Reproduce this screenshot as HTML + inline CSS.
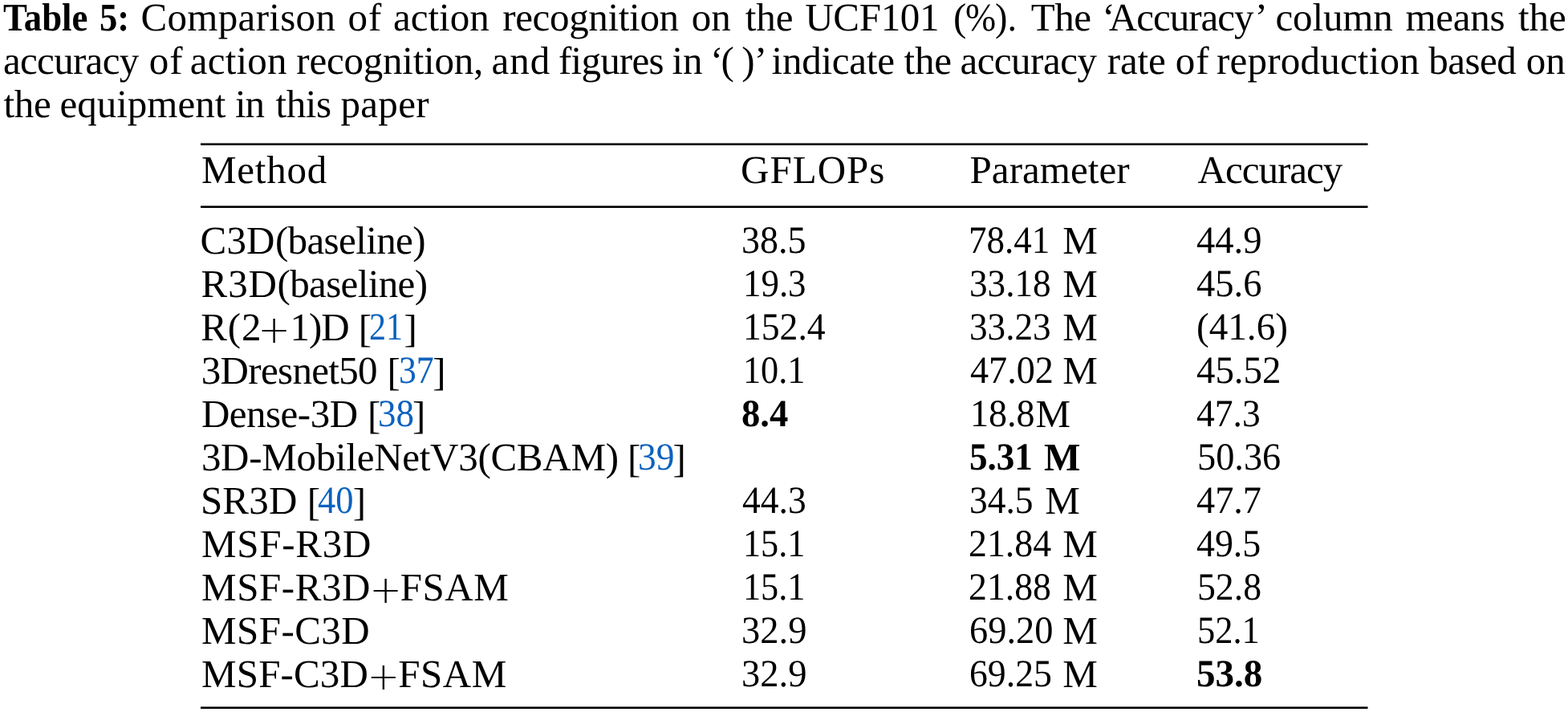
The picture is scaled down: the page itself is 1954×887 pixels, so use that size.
<!DOCTYPE html>
<html><head><meta charset="utf-8"><title>Table 5</title>
<style>
html,body{margin:0;padding:0;background:#fff;}
body{width:1954px;height:887px;position:relative;overflow:hidden;font-family:"Liberation Serif",serif;font-size:49px;color:#000;}
.t{text-rendering:geometricPrecision;position:absolute;white-space:nowrap;line-height:1;margin:0;padding:0;}
b{font-weight:bold;}
</style></head><body>

<span class="t" style="left:3.80px;top:-3.00px;transform:scaleX(0.9140);transform-origin:0 0;"><b>Table</b></span>
<span class="t" style="left:123.79px;top:-3.00px;transform:scaleX(0.9127);transform-origin:0 0;"><b>5:</b></span>
<span class="t" style="left:175.50px;top:-3.00px;letter-spacing:0.317px;">Comparison</span>
<span class="t" style="left:433.50px;top:-3.00px;letter-spacing:1.000px;">of</span>
<span class="t" style="left:489.90px;top:-3.00px;letter-spacing:0.035px;">action</span>
<span class="t" style="left:626.20px;top:-3.00px;letter-spacing:-0.326px;">recognition</span>
<span class="t" style="left:861.70px;top:-3.00px;">on</span>
<span class="t" style="left:928.80px;top:-3.00px;letter-spacing:-0.107px;">the</span>
<span class="t" style="left:1003.30px;top:-3.00px;letter-spacing:-0.324px;">UCF101</span>
<span class="t" style="left:1188.00px;top:-3.00px;">(</span><span class="t" style="left:1202.77px;top:-3.00px;transform:scaleX(0.9333);transform-origin:0 0;">%</span><span class="t" style="left:1240.26px;top:-3.00px;transform:scaleX(0.9440);transform-origin:0 0;">).</span>
<span class="t" style="left:1284.70px;top:-3.00px;letter-spacing:-0.416px;">The</span>
<span class="t" style="left:1373.20px;top:-3.00px;">‘</span><span class="t" style="left:1381.80px;top:-3.00px;letter-spacing:-1.000px;">Accuracy</span><span class="t" style="left:1563.50px;top:-3.00px;">’</span>
<span class="t" style="left:1589.50px;top:-3.00px;letter-spacing:-0.155px;">column</span>
<span class="t" style="left:1751.40px;top:-3.00px;letter-spacing:-0.278px;">means</span>
<span class="t" style="left:1892.10px;top:-3.00px;letter-spacing:-0.157px;">the</span>
<span class="t" style="left:3.90px;top:51.00px;letter-spacing:-0.666px;">accuracy</span>
<span class="t" style="left:185.70px;top:51.00px;letter-spacing:1.000px;">of</span>
<span class="t" style="left:236.80px;top:51.00px;letter-spacing:0.175px;">action</span>
<span class="t" style="left:369.30px;top:51.00px;letter-spacing:-0.223px;">recognition,</span>
<span class="t" style="left:612.40px;top:51.00px;letter-spacing:1.000px;">and</span>
<span class="t" style="left:696.00px;top:51.00px;letter-spacing:-0.766px;">figures</span>
<span class="t" style="left:837.60px;top:51.00px;letter-spacing:-0.314px;">in</span>
<span class="t" style="left:885.00px;top:51.00px;">‘</span><span class="t" style="left:898.60px;top:51.00px;">(</span>
<span class="t" style="left:924.20px;top:51.00px;">)</span><span class="t" style="left:939.80px;top:51.00px;">’</span>
<span class="t" style="left:961.60px;top:51.00px;letter-spacing:-0.248px;">indicate</span>
<span class="t" style="left:1126.60px;top:51.00px;letter-spacing:-0.207px;">the</span>
<span class="t" style="left:1196.40px;top:51.00px;letter-spacing:-0.509px;">accuracy</span>
<span class="t" style="left:1379.80px;top:51.00px;letter-spacing:-0.160px;">rate</span>
<span class="t" style="left:1464.80px;top:51.00px;letter-spacing:1.000px;">of</span>
<span class="t" style="left:1516.10px;top:51.00px;letter-spacing:0.204px;">reproduction</span>
<span class="t" style="left:1780.30px;top:51.00px;letter-spacing:-0.516px;">based</span>
<span class="t" style="left:1901.70px;top:51.00px;letter-spacing:0.100px;">on</span>
<span class="t" style="left:4.60px;top:105.00px;letter-spacing:-0.357px;">the</span>
<span class="t" style="left:74.50px;top:105.00px;">equipment</span>
<span class="t" style="left:292.90px;top:105.00px;letter-spacing:-1.000px;">in</span>
<span class="t" style="left:343.40px;top:105.00px;letter-spacing:-0.376px;">this</span>
<span class="t" style="left:424.50px;top:105.00px;letter-spacing:0.301px;">paper</span>
<span class="t" style="left:251.00px;top:187.00px;letter-spacing:0.774px;">Method</span>
<span class="t" style="left:923.10px;top:187.00px;letter-spacing:1.000px;">GFLOPs</span>
<span class="t" style="left:1208.50px;top:187.00px;letter-spacing:0.064px;">Parameter</span>
<span class="t" style="left:1492.50px;top:187.00px;letter-spacing:-1.000px;">Accuracy</span>
<span class="t" style="left:249.50px;top:275.00px;letter-spacing:0.209px;">C3D</span><span class="t" style="left:342.90px;top:275.00px;letter-spacing:-0.618px;">(baseline)</span>
<span class="t" style="left:924.49px;top:276.00px;font-size:48px;transform:scaleX(0.9568);transform-origin:0 0;">38.5</span>
<span class="t" style="left:1207.49px;top:276.00px;font-size:48px;transform:scaleX(0.9369);transform-origin:0 0;">78.41</span>
<span class="t" style="left:1324.20px;top:275.00px;">M</span>
<span class="t" style="left:1491.40px;top:276.00px;font-size:48px;transform:scaleX(0.9699);transform-origin:0 0;">44.9</span>
<span class="t" style="left:250.50px;top:329.00px;letter-spacing:0.959px;">R3D</span><span class="t" style="left:345.50px;top:329.00px;letter-spacing:-0.629px;">(baseline)</span>
<span class="t" style="left:925.66px;top:330.00px;font-size:48px;transform:scaleX(0.9354);transform-origin:0 0;">19.3</span>
<span class="t" style="left:1208.42px;top:330.00px;font-size:48px;transform:scaleX(0.9419);transform-origin:0 0;">33.18</span>
<span class="t" style="left:1324.20px;top:329.00px;">M</span>
<span class="t" style="left:1491.40px;top:330.00px;font-size:48px;transform:scaleX(0.9699);transform-origin:0 0;">45.6</span>
<span class="t" style="left:250.20px;top:383.00px;letter-spacing:0.950px;">R(2</span><span class="t" style="left:321.50px;top:387.00px;font-family:'DejaVu Sans Light','DejaVu Sans',sans-serif;font-weight:200;font-size:48px;">+</span><span class="t" style="left:361.40px;top:383.00px;letter-spacing:-1.000px;">1)D</span>
<span class="t" style="left:446.80px;top:385.00px;">[</span><span class="t" style="left:459.55px;top:384.00px;font-size:48px;transform:scaleX(0.8750);transform-origin:0 0;color:#0b62be;">21</span><span class="t" style="left:503.40px;top:385.00px;">]</span>
<span class="t" style="left:925.60px;top:384.00px;font-size:48px;transform:scaleX(0.9500);transform-origin:0 0;">152.4</span>
<span class="t" style="left:1208.42px;top:384.00px;font-size:48px;transform:scaleX(0.9419);transform-origin:0 0;">33.23</span>
<span class="t" style="left:1324.20px;top:383.00px;">M</span>
<span class="t" style="left:1490.64px;top:384.00px;font-size:48px;transform:scaleX(0.9823);transform-origin:0 0;">(41.6)</span>
<span class="t" style="left:250.80px;top:437.00px;letter-spacing:-0.687px;">3Dresnet50</span>
<span class="t" style="left:482.60px;top:439.00px;">[</span><span class="t" style="left:496.58px;top:438.00px;font-size:48px;transform:scaleX(0.9111);transform-origin:0 0;color:#0b62be;">37</span><span class="t" style="left:539.20px;top:439.00px;">]</span>
<span class="t" style="left:925.72px;top:438.00px;font-size:48px;transform:scaleX(0.9205);transform-origin:0 0;">10.1</span>
<span class="t" style="left:1208.50px;top:438.00px;font-size:48px;transform:scaleX(0.9613);transform-origin:0 0;">47.02</span>
<span class="t" style="left:1324.20px;top:437.00px;">M</span>
<span class="t" style="left:1491.40px;top:438.00px;font-size:48px;transform:scaleX(0.9755);transform-origin:0 0;">45.52</span>
<span class="t" style="left:250.90px;top:491.00px;letter-spacing:-0.496px;">Dense-3D</span>
<span class="t" style="left:457.90px;top:493.00px;">[</span><span class="t" style="left:470.92px;top:492.00px;font-size:48px;transform:scaleX(0.9378);transform-origin:0 0;color:#0b62be;">38</span><span class="t" style="left:514.00px;top:493.00px;">]</span>
<span class="t" style="left:923.93px;top:492.00px;font-size:48px;transform:scaleX(0.9712);transform-origin:0 0;"><b>8.4</b></span>
<span class="t" style="left:1209.16px;top:492.00px;font-size:48px;transform:scaleX(0.9595);transform-origin:0 0;">18.8</span><span class="t" style="left:1290.50px;top:491.00px;">M</span>
<span class="t" style="left:1491.40px;top:492.00px;font-size:48px;transform:scaleX(0.9482);transform-origin:0 0;">47.3</span>
<span class="t" style="left:250.90px;top:545.00px;letter-spacing:-0.275px;">3D-MobileNetV3(CBAM)</span>
<span class="t" style="left:781.90px;top:547.00px;">[</span><span class="t" style="left:795.21px;top:546.00px;font-size:48px;transform:scaleX(0.9467);transform-origin:0 0;color:#0b62be;">39</span><span class="t" style="left:838.60px;top:547.00px;">]</span>
<span class="t" style="left:1208.16px;top:546.00px;font-size:48px;transform:scaleX(0.9395);transform-origin:0 0;"><b>5.31</b></span>
<span class="t" style="left:1301.40px;top:545.00px;transform:scaleX(0.9822);transform-origin:0 0;"><b>M</b></span>
<span class="t" style="left:1491.57px;top:546.00px;font-size:48px;transform:scaleX(0.9648);transform-origin:0 0;">50.36</span>
<span class="t" style="left:249.90px;top:599.00px;letter-spacing:0.222px;">SR3D</span>
<span class="t" style="left:382.70px;top:601.00px;">[</span><span class="t" style="left:396.40px;top:600.00px;font-size:48px;transform:scaleX(0.9255);transform-origin:0 0;color:#0b62be;">40</span><span class="t" style="left:439.80px;top:601.00px;">]</span>
<span class="t" style="left:924.60px;top:600.00px;font-size:48px;transform:scaleX(0.9482);transform-origin:0 0;">44.3</span>
<span class="t" style="left:1208.41px;top:600.00px;font-size:48px;transform:scaleX(0.9469);transform-origin:0 0;">34.5</span>
<span class="t" style="left:1302.20px;top:599.00px;">M</span>
<span class="t" style="left:1491.40px;top:600.00px;font-size:48px;transform:scaleX(0.9639);transform-origin:0 0;">47.7</span>
<span class="t" style="left:251.00px;top:653.00px;letter-spacing:0.721px;">MSF-R3D</span>
<span class="t" style="left:925.72px;top:654.00px;font-size:48px;transform:scaleX(0.9205);transform-origin:0 0;">15.1</span>
<span class="t" style="left:1207.19px;top:654.00px;font-size:48px;transform:scaleX(0.9557);transform-origin:0 0;">21.84</span>
<span class="t" style="left:1324.20px;top:653.00px;">M</span>
<span class="t" style="left:1491.40px;top:654.00px;font-size:48px;transform:scaleX(0.9554);transform-origin:0 0;">49.5</span>
<span class="t" style="left:251.00px;top:707.00px;letter-spacing:0.588px;">MSF-R3D</span><span class="t" style="left:460.40px;top:711.00px;font-family:'DejaVu Sans Light','DejaVu Sans',sans-serif;font-weight:200;font-size:48px;">+</span><span class="t" style="left:498.70px;top:707.00px;letter-spacing:0.570px;">FSAM</span>
<span class="t" style="left:925.72px;top:708.00px;font-size:48px;transform:scaleX(0.9205);transform-origin:0 0;">15.1</span>
<span class="t" style="left:1207.19px;top:708.00px;font-size:48px;transform:scaleX(0.9533);transform-origin:0 0;">21.88</span>
<span class="t" style="left:1324.20px;top:707.00px;">M</span>
<span class="t" style="left:1491.59px;top:708.00px;font-size:48px;transform:scaleX(0.9531);transform-origin:0 0;">52.8</span>
<span class="t" style="left:251.00px;top:761.00px;letter-spacing:0.455px;">MSF-C3D</span>
<span class="t" style="left:924.26px;top:762.00px;font-size:48px;transform:scaleX(0.9691);transform-origin:0 0;">32.9</span>
<span class="t" style="left:1207.67px;top:762.00px;font-size:48px;transform:scaleX(0.9667);transform-origin:0 0;">69.20</span>
<span class="t" style="left:1324.20px;top:761.00px;">M</span>
<span class="t" style="left:1491.85px;top:762.00px;font-size:48px;transform:scaleX(0.9262);transform-origin:0 0;">52.1</span>
<span class="t" style="left:251.00px;top:815.00px;letter-spacing:0.155px;">MSF-C3D</span><span class="t" style="left:457.70px;top:819.00px;font-family:'DejaVu Sans Light','DejaVu Sans',sans-serif;font-weight:200;font-size:48px;">+</span><span class="t" style="left:496.20px;top:815.00px;letter-spacing:0.537px;">FSAM</span>
<span class="t" style="left:924.26px;top:816.00px;font-size:48px;transform:scaleX(0.9691);transform-origin:0 0;">32.9</span>
<span class="t" style="left:1207.70px;top:816.00px;font-size:48px;transform:scaleX(0.9524);transform-origin:0 0;">69.25</span>
<span class="t" style="left:1324.20px;top:815.00px;">M</span>
<span class="t" style="left:1490.92px;top:816.00px;font-size:48px;transform:scaleX(0.9805);transform-origin:0 0;"><b>53.8</b></span><svg width="1954" height="887" viewBox="0 0 1954 887" style="position:absolute;left:0;top:0;pointer-events:none"><g fill="#000"><rect x="250" y="178.4" width="1454.5" height="2.6"/><rect x="250" y="256.4" width="1454.5" height="2.6"/><rect x="250" y="880.4" width="1454.5" height="2.6"/></g></svg>
</body></html>
